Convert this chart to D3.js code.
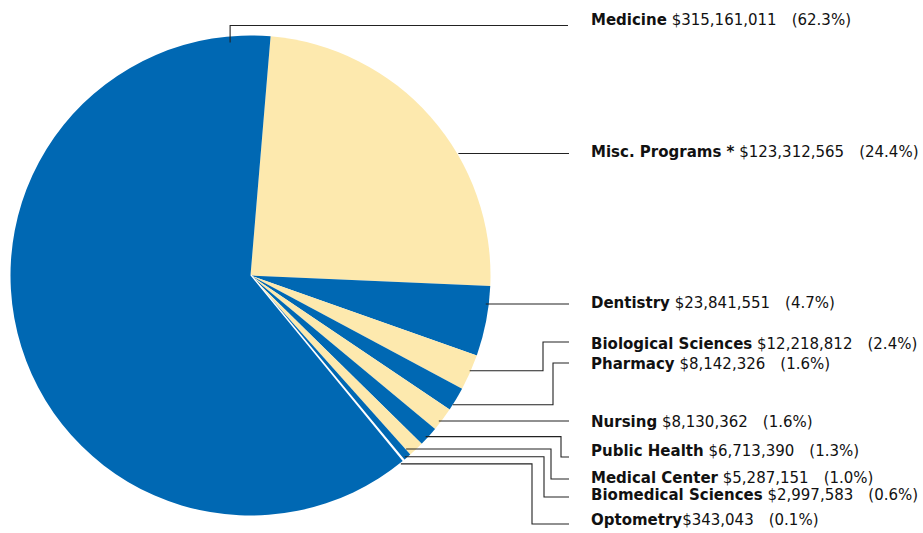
<!DOCTYPE html>
<html>
<head>
<meta charset="utf-8">
<script src="https://cdn.jsdelivr.net/npm/d3@7"></script>
<style>
	body { margin: 0; background: #fff; }
	svg { display: block; }
	.label { font-family: 'DejaVu Sans', sans-serif; font-size: 15px; fill: #111; white-space: pre; }
	.label .name { font-weight: bold; }
	.leader { fill: none; stroke: #222; stroke-width: 1.1; }
</style>
</head>
<body>
<svg id="chart" width="923" height="533"></svg>
<script>
// data, in the order the slices run clockwise from the top
const names = ['Misc. Programs *', 'Dentistry', 'Biological Sciences', 'Pharmacy', 'Nursing',
	'Public Health', 'Medical Center', 'Biomedical Sciences', 'Optometry', 'Medicine'];
const amounts = [123312565, 23841551, 12218812, 8142326, 8130362,
	6713390, 5287151, 2997583, 343043, 315161011];
const fills = ['#fde9ae', '#0068b3', '#fde9ae', '#0068b3', '#fde9ae',
	'#0068b3', '#fde9ae', '#0068b3', '#ffffff', '#0068b3'];

// where each leader line leaves the pie and where its label sits
const leaders = {
	'Medicine':            { angle: 355,   r: 234, elbow: 'anchor', lineY: 25.5, textY: 25 },
	'Misc. Programs *':    { angle: 59.6,  r: 241, elbow: null, lineY: null, textY: 157 },
	'Dentistry':           { angle: 96.9,  r: 237, elbow: null, lineY: null, textY: 308 },
	'Biological Sciences': { angle: 113.5, r: 239, elbow: 543, lineY: 342, textY: 349 },
	'Pharmacy':            { angle: 122.6, r: 240, elbow: 553, lineY: 363, textY: 369 },
	'Nursing':             { angle: 127.7, r: 238, elbow: null, lineY: null, textY: 427 },
	'Public Health':       { angle: 132.6, r: 238, elbow: 561, lineY: 457, textY: 456 },
	'Medical Center':      { angle: 138.1, r: 233, elbow: 551, lineY: 479, textY: 483 },
	'Biomedical Sciences': { angle: 139.6, r: 238, elbow: 544, lineY: 497, textY: 500 },
	'Optometry':           { angle: 141.4, r: 241, elbow: 532, lineY: 524, textY: 525 },
};

const cx = 250.5, cy = 275.5, radius = 240;
const startDeg = 4.8;
const lineEnd = 569, textX = 591;

const total = d3.sum(amounts);
const rows = names.map((n, i) => ({ name: n, amount: amounts[i], fill: fills[i] }));

const svg = d3.select('#chart');
const g = svg.append('g').attr('transform', `translate(${cx},${cy})`);

const rad = d => d * Math.PI / 180;
const pie = d3.pie().sort(null).value(d => d.amount)
	.startAngle(rad(startDeg)).endAngle(rad(startDeg) + 2 * Math.PI);
const arc = d3.arc().innerRadius(0).outerRadius(radius);

g.selectAll('path.slice')
	.data(pie(rows))
	.join('path')
	.attr('class', 'slice')
	.attr('d', arc)
	.attr('fill', d => d.data.fill)
	.attr('stroke', d => d.data.fill === '#ffffff' ? '#ffffff' : 'none')
	.attr('stroke-width', 2.5);

// leader lines
const line = d3.line();
const fmtMoney = d3.format('$,');
const fmtPct = d3.format('.1%');

rows.forEach(d => {
	const L = leaders[d.name];
	const a = rad(L.angle);
	const ax = cx + L.r * Math.sin(a);
	const ay = cy - L.r * Math.cos(a);
	const ly = L.lineY == null ? ay : L.lineY;
	let pts;
	if (L.elbow === 'anchor') pts = [[ax, ay], [ax, ly], [lineEnd - 1, ly]];
	else if (L.elbow == null) pts = [[ax, ly], [lineEnd, ly]];
	else pts = [[ax, ay], [L.elbow, ay], [L.elbow, ly], [lineEnd, ly]];
	svg.append('path').attr('class', 'leader').attr('d', line(pts));

	const t = svg.append('text').attr('class', 'label')
		.attr('x', textX).attr('y', L.textY);
	t.append('tspan').attr('class', 'name').text(d.name);
	t.append('tspan').text((d.name === 'Optometry' ? '' : ' ') + fmtMoney(d.amount));
	t.append('tspan').attr('dx', 15).text('(' + fmtPct(d.amount / total) + ')');
});
</script>
</body>
</html>
